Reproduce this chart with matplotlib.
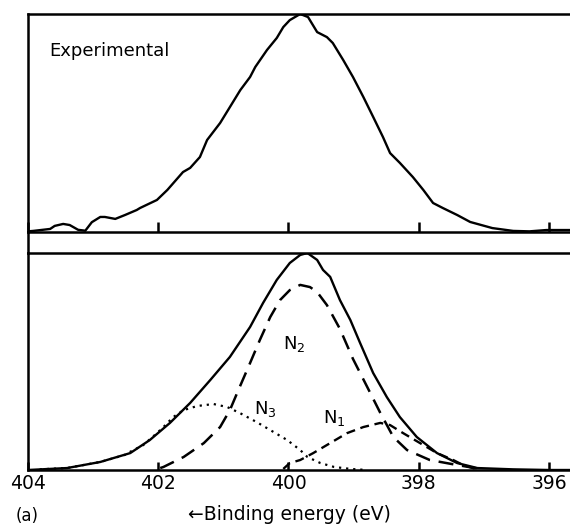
import matplotlib.pyplot as plt
from matplotlib.lines import Line2D

plt.rcParams["font.family"] = ["DejaVu Sans"]

# Experimental N 1s spectrum (binding energy eV, intensity a.u.)
exp_ev = [404.0, 403.92, 403.66, 403.59, 403.46, 403.36, 403.23, 403.12, 403.02,
          402.89, 402.82, 402.66, 402.51, 402.33, 402.28, 402.02, 401.86, 401.62,
          401.51, 401.36, 401.25, 401.05, 400.90, 400.74, 400.59, 400.51, 400.33,
          400.18, 400.08, 399.98, 399.82, 399.70, 399.56, 399.41, 399.32, 399.16,
          399.01, 398.85, 398.70, 398.55, 398.44, 398.29, 398.09, 397.93, 397.78,
          397.63, 397.41, 397.21, 396.87, 396.55, 396.30, 396.04, 395.68]
exp_int = [0.3, 0.5, 1.4, 2.8, 3.7, 3.2, 1.0, 0.6, 4.5,
           6.9, 6.9, 6.0, 7.8, 10.1, 11.0, 14.7, 19.3, 27.5,
           29.4, 34.4, 42.2, 50.0, 57.3, 65.1, 71.1, 75.7, 83.5,
           89.0, 94.0, 97.2, 100.0, 98.6, 91.7, 89.4, 86.7, 78.9,
           71.1, 61.9, 52.8, 43.6, 36.2, 31.7, 25.2, 19.3, 13.3,
           11.0, 7.8, 4.6, 1.8, 0.5, 0.3, 0.9, 0.9]

# Fitted envelope
fit_ev = [404.0, 403.40, 402.89, 402.43, 402.13, 401.82, 401.51, 401.20, 400.90,
          400.59, 400.39, 400.18, 399.98, 399.82, 399.71, 399.56, 399.47, 399.36,
          399.21, 399.05, 398.90, 398.70, 398.49, 398.29, 398.03, 397.72, 397.41,
          397.10, 396.55, 396.0, 395.68]
fit_int = [0.0, 0.9, 3.7, 7.8, 13.8, 21.7, 30.9, 41.5, 52.1,
           65.9, 77.0, 87.6, 95.4, 99.1, 100.0, 96.8, 92.2, 89.0,
           78.3, 69.1, 58.5, 44.7, 33.6, 24.4, 15.2, 7.8, 3.2,
           0.9, 0.3, 0.0, 0.0]

# Component N2
n2_ev = [401.97, 401.92, 401.61, 401.30, 401.05, 400.90, 400.75, 400.59, 400.44,
         400.28, 400.13, 399.98, 399.82, 399.67, 399.56, 399.41, 399.21, 399.01,
         398.79, 398.59, 398.39, 398.18, 397.83, 397.41, 397.06]
n2_int = [0.9, 1.4, 6.0, 12.4, 19.8, 27.6, 38.2, 49.3, 59.9,
          70.5, 78.3, 82.9, 85.3, 84.3, 82.0, 76.0, 65.0, 51.2,
          38.2, 26.3, 15.2, 9.2, 4.6, 2.3, 0.5]

# Component N3
n3_ev = [403.82, 403.40, 402.89, 402.51, 402.43, 402.23, 402.02, 401.92, 401.77,
         401.61, 401.40, 401.15, 400.94, 400.75, 400.49, 400.28, 400.02, 399.82,
         399.71, 399.51, 399.30, 399.05, 398.85]
n3_int = [0.3, 0.9, 3.7, 7.0, 8.4, 11.5, 17.0, 19.8, 24.4,
          27.6, 29.5, 30.4, 29.0, 26.3, 22.1, 18.4, 13.8, 9.2,
          6.0, 3.2, 1.4, 0.5, 0.1]

# Component N1
n1_ev = [400.08, 399.98, 399.82, 399.62, 399.36, 399.10, 398.85, 398.59, 398.44,
         398.24, 397.98, 397.72, 397.47, 397.32, 397.13]
n1_int = [0.5, 3.2, 4.6, 7.8, 12.4, 17.0, 19.8, 21.7, 20.7,
          17.0, 12.4, 7.8, 4.6, 2.3, 0.5]

tick_ev = [404, 402, 400, 398, 396]

fig = plt.figure(figsize=(5.7, 5.29), dpi=100)
left = 28 / 570
ax_top = fig.add_axes([left, 1 - 232 / 529, 1 - left, (232 - 14) / 529])
ax_bot = fig.add_axes([left, 1 - 470 / 529, 1 - left, (470 - 253) / 529])

x_hi = 404.0
x_lo = 396.0 - (570 - 549) / 65.1

for ax in (ax_top, ax_bot):
    ax.set_xlim(x_hi, x_lo)
    ax.set_ylim(0, 100)
    ax.set_yticks([])
    ax.spines["right"].set_visible(False)
    for s in ("left", "top", "bottom"):
        ax.spines[s].set_linewidth(1.8)
    ax.set_xticks(tick_ev)
    ax.tick_params(axis="x", direction="in", width=1.8, top=False)

ax_top.tick_params(axis="x", length=7.5, labelbottom=False)
ax_top.plot(exp_ev, exp_int, color="black", lw=1.7)
ax_top.text(403.67, 83, "Experimental", fontsize=13, ha="left", va="center")

ax_bot.tick_params(axis="x", length=6, labelsize=13.5, pad=3)
ax_bot.plot(fit_ev, fit_int, color="black", lw=1.7)
ax_bot.plot(n2_ev, n2_int, color="black", lw=1.8, dashes=(6, 3.5))
ax_bot.plot(n3_ev, n3_int, color="black", lw=1.6, dashes=(1, 2.2))
ax_bot.plot(n1_ev, n1_int, color="black", lw=1.7, dashes=(3.8, 2.4))

ax_bot.text(399.92, 58, "N$_2$", fontsize=13, ha="center", va="center")
ax_bot.text(400.36, 28, "N$_3$", fontsize=13, ha="center", va="center")
ax_bot.text(399.30, 24, "N$_1$", fontsize=13, ha="center", va="center")

# left border continues through the gap between the panels
fig.add_artist(Line2D([left, left], [1 - 253 / 529, 1 - 232 / 529],
                      transform=fig.transFigure, color="black", lw=1.8))

fig.text(27 / 570, 1 - 516 / 529, "(a)", fontsize=12, ha="center", va="center")
fig.text(289 / 570, 1 - 514 / 529, "\u2190Binding energy (eV)", fontsize=13.5,
         ha="center", va="center")

fig.savefig("out.png", dpi=100)
